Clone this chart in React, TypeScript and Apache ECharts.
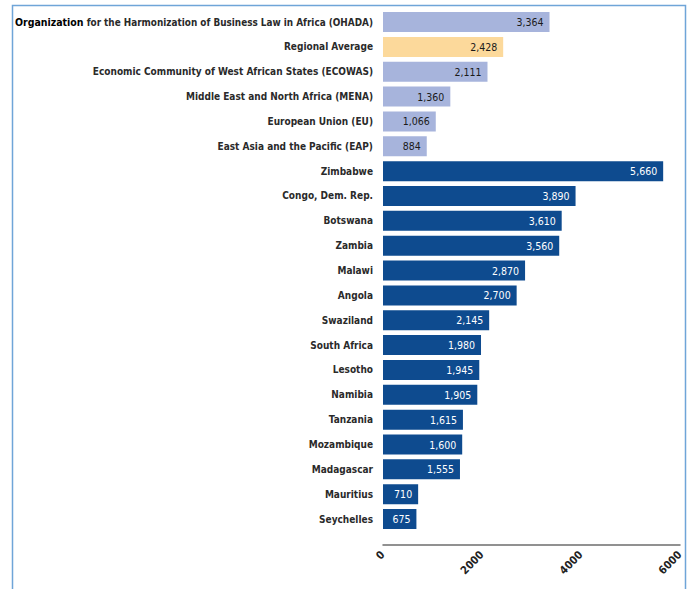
import React, { useEffect, useRef } from "react";
import * as echarts from "echarts";

const categories = [
  "Organization for the Harmonization of Business Law in Africa (OHADA)",
  "Regional Average",
  "Economic Community of West African States (ECOWAS)",
  "Middle East and North Africa (MENA)",
  "European Union (EU)",
  "East Asia and the Pacific (EAP)",
  "Zimbabwe",
  "Congo, Dem. Rep.",
  "Botswana",
  "Zambia",
  "Malawi",
  "Angola",
  "Swaziland",
  "South Africa",
  "Lesotho",
  "Namibia",
  "Tanzania",
  "Mozambique",
  "Madagascar",
  "Mauritius",
  "Seychelles",
];

const values = [
  3364, 2428, 2111, 1360, 1066, 884, 5660, 3890, 3610, 3560, 2870, 2700, 2145,
  1980, 1945, 1905, 1615, 1600, 1555, 710, 675,
];

// group of each bar: "region", "average" or "country"
const groups = [
  "region", "average", "region", "region", "region", "region",
  "country", "country", "country", "country", "country", "country", "country",
  "country", "country", "country", "country", "country", "country", "country", "country",
];

const xTicks = [0, 2000, 4000, 6000];

const FONT = "'DejaVu Sans Condensed', 'Liberation Sans Narrow', sans-serif";

const colorOf: Record<string, string> = {
  region: "#A7B4DC",
  average: "#FCD99B",
  country: "#0E4B8F",
};
const labelColorOf: Record<string, string> = {
  region: "#1A1A1A",
  average: "#1A1A1A",
  country: "#FFFFFF",
};

export default function App() {
  const ref = useRef<HTMLDivElement>(null);
  useEffect(() => {
    if (!ref.current) return;
    const chart = echarts.init(ref.current, null, { renderer: "svg" });
    chart.setOption({
      animation: false,
      backgroundColor: "#FFFFFF",
      graphic: [
        {
          type: "rect",
          shape: { x: 12.5, y: 5.5, width: 673, height: 620 },
          style: { fill: "none", stroke: "#6FA5D8", lineWidth: 1.5 },
          silent: true,
        },
      ],
      grid: {
        left: 383,
        right: 10,
        top: 9.6,
        bottom: 57.5,
        containLabel: false,
        outerBoundsMode: "none",
      },
      xAxis: {
        type: "value",
        min: 0,
        max: 6000,
        interval: 2000,
        offset: 13.5,
        axisLine: { show: true, lineStyle: { color: "#6E6E6E", width: 1.5 } },
        axisTick: { show: false },
        splitLine: { show: false },
        axisLabel: {
          rotate: 45,
          margin: 8,
          fontFamily: FONT,
          fontSize: 11,
          fontWeight: "bold",
          color: "#222",
          formatter: (v: number) => (xTicks.includes(v) ? String(v) : ""),
        },
      },
      yAxis: {
        type: "category",
        data: categories,
        inverse: true,
        axisLine: { show: false },
        axisTick: { show: false },
        axisLabel: {
          margin: 10,
          fontFamily: FONT,
          fontSize: 10,
          fontWeight: "bold",
          color: "#2A2A2A",
          formatter: (v: string) => {
            if (v.startsWith("Organization ")) {
              return "{b|Organization} {n|" + v.slice("Organization ".length) + "}";
            }
            return v;
          },
          rich: {
            b: {
              fontFamily: FONT,
              fontSize: 10.5,
              fontWeight: "bold",
              color: "#000",
            },
            n: {
              fontFamily: FONT,
              fontSize: 9.9,
              fontWeight: "bold",
              color: "#2A2A2A",
            },
          },
        },
      },
      series: [
        {
          type: "bar",
          barWidth: 20,
          data: values.map((v, i) => ({
            value: v,
            itemStyle: { color: colorOf[groups[i]] },
            label: { color: labelColorOf[groups[i]] },
          })),
          label: {
            show: true,
            position: "insideRight",
            distance: 6,
            fontFamily: FONT,
            fontSize: 10.5,
            formatter: (p: any) => Number(p.value).toLocaleString("en-US"),
          },
        },
      ],
    });
    return () => chart.dispose();
  }, []);
  return (
    <div
      ref={ref}
      style={{ position: "fixed", left: 0, top: 0, width: 690, height: 589 }}
    />
  );
}
